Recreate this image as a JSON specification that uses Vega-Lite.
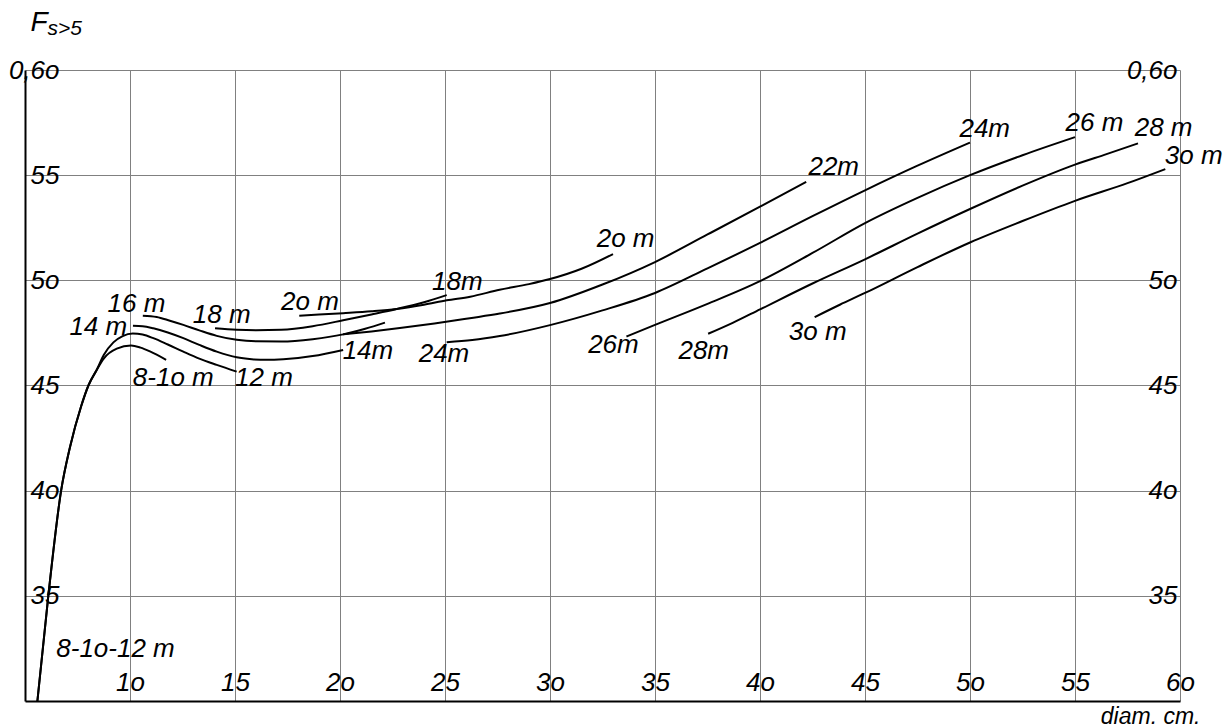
{
  "$schema": "https://vega.github.io/schema/vega-lite/v6.json",
  "width": 1155,
  "height": 631,
  "autosize": {"type": "none"},
  "padding": {"left": 25, "top": 70, "right": 48, "bottom": 26},
  "background": "white",
  "config": {
    "view": {"stroke": null},
    "font": "Liberation Sans",
    "axis": {
      "labelFont": "Liberation Sans",
      "labelFontStyle": "italic",
      "labelFontSize": 26,
      "labelColor": "black",
      "labelOverlap": false,
      "labelFlush": false,
      "titleFont": "Liberation Sans",
      "titleFontStyle": "italic",
      "titleFontWeight": "normal",
      "titleColor": "black"
    }
  },
  "datasets": {
    "curves": [
      {"h": "8-10 m", "d": 5.59, "f": 0.300},
      {"h": "8-10 m", "d": 6.11, "f": 0.350},
      {"h": "8-10 m", "d": 6.72, "f": 0.400},
      {"h": "8-10 m", "d": 7.15, "f": 0.421},
      {"h": "8-10 m", "d": 7.67, "f": 0.440},
      {"h": "8-10 m", "d": 8.02, "f": 0.450},
      {"h": "8-10 m", "d": 8.42, "f": 0.4575},
      {"h": "8-10 m", "d": 8.75, "f": 0.4628},
      {"h": "8-10 m", "d": 9.37, "f": 0.4675},
      {"h": "8-10 m", "d": 10.05, "f": 0.4690},
      {"h": "8-10 m", "d": 10.5, "f": 0.4680},
      {"h": "8-10 m", "d": 10.95, "f": 0.4662},
      {"h": "8-10 m", "d": 11.72, "f": 0.4622},

      {"h": "12 m", "d": 5.59, "f": 0.300},
      {"h": "12 m", "d": 6.11, "f": 0.350},
      {"h": "12 m", "d": 6.72, "f": 0.400},
      {"h": "12 m", "d": 7.15, "f": 0.421},
      {"h": "12 m", "d": 7.67, "f": 0.440},
      {"h": "12 m", "d": 8.02, "f": 0.450},
      {"h": "12 m", "d": 8.42, "f": 0.4575},
      {"h": "12 m", "d": 8.75, "f": 0.4645},
      {"h": "12 m", "d": 9.21, "f": 0.4705},
      {"h": "12 m", "d": 9.65, "f": 0.4735},
      {"h": "12 m", "d": 10.13, "f": 0.4747},
      {"h": "12 m", "d": 10.6, "f": 0.4742},
      {"h": "12 m", "d": 11.11, "f": 0.4725},
      {"h": "12 m", "d": 11.8, "f": 0.4695},
      {"h": "12 m", "d": 12.54, "f": 0.4661},
      {"h": "12 m", "d": 13.3, "f": 0.4628},
      {"h": "12 m", "d": 14.13, "f": 0.4598},
      {"h": "12 m", "d": 15.08, "f": 0.4566},

      {"h": "14 m", "d": 10.14, "f": 0.4784},
      {"h": "14 m", "d": 10.6, "f": 0.4782},
      {"h": "14 m", "d": 11.11, "f": 0.4772},
      {"h": "14 m", "d": 11.8, "f": 0.4752},
      {"h": "14 m", "d": 12.54, "f": 0.4725},
      {"h": "14 m", "d": 13.3, "f": 0.4693},
      {"h": "14 m", "d": 14.13, "f": 0.4661},
      {"h": "14 m", "d": 15.08, "f": 0.4634},
      {"h": "14 m", "d": 15.8, "f": 0.4625},
      {"h": "14 m", "d": 16.5, "f": 0.4622},
      {"h": "14 m", "d": 17.3, "f": 0.4625},
      {"h": "14 m", "d": 18.7, "f": 0.4640},
      {"h": "14 m", "d": 20.15, "f": 0.4669},

      {"h": "16 m", "d": 10.61, "f": 0.4832},
      {"h": "16 m", "d": 11.27, "f": 0.4826},
      {"h": "16 m", "d": 11.9, "f": 0.4808},
      {"h": "16 m", "d": 12.54, "f": 0.4788},
      {"h": "16 m", "d": 13.3, "f": 0.4762},
      {"h": "16 m", "d": 14.13, "f": 0.4736},
      {"h": "16 m", "d": 15.08, "f": 0.4717},
      {"h": "16 m", "d": 16.0, "f": 0.4710},
      {"h": "16 m", "d": 17.2, "f": 0.4709},
      {"h": "16 m", "d": 18.7, "f": 0.4720},
      {"h": "16 m", "d": 20.15, "f": 0.4743},
      {"h": "16 m", "d": 21.2, "f": 0.4770},
      {"h": "16 m", "d": 22.14, "f": 0.4799},

      {"h": "18 m", "d": 14.05, "f": 0.4772},
      {"h": "18 m", "d": 15.08, "f": 0.4765},
      {"h": "18 m", "d": 16.0, "f": 0.4763},
      {"h": "18 m", "d": 17.2, "f": 0.4765},
      {"h": "18 m", "d": 18.7, "f": 0.4782},
      {"h": "18 m", "d": 20.15, "f": 0.4810},
      {"h": "18 m", "d": 21.5, "f": 0.4838},
      {"h": "18 m", "d": 22.7, "f": 0.4864},
      {"h": "18 m", "d": 24.0, "f": 0.4896},
      {"h": "18 m", "d": 25.08, "f": 0.4930},

      {"h": "20 m", "d": 18.06, "f": 0.4832},
      {"h": "20 m", "d": 19.0, "f": 0.4837},
      {"h": "20 m", "d": 20.15, "f": 0.4844},
      {"h": "20 m", "d": 21.5, "f": 0.4853},
      {"h": "20 m", "d": 22.7, "f": 0.4864},
      {"h": "20 m", "d": 24.0, "f": 0.4884},
      {"h": "20 m", "d": 25.08, "f": 0.4905},
      {"h": "20 m", "d": 26.2, "f": 0.4922},
      {"h": "20 m", "d": 27.6, "f": 0.4955},
      {"h": "20 m", "d": 29.0, "f": 0.4982},
      {"h": "20 m", "d": 30.0, "f": 0.5006},
      {"h": "20 m", "d": 31.5, "f": 0.5055},
      {"h": "20 m", "d": 33.0, "f": 0.5125},

      {"h": "22 m", "d": 20.15, "f": 0.4743},
      {"h": "22 m", "d": 21.5, "f": 0.4757},
      {"h": "22 m", "d": 22.85, "f": 0.4773},
      {"h": "22 m", "d": 24.5, "f": 0.4795},
      {"h": "22 m", "d": 26.18, "f": 0.4820},
      {"h": "22 m", "d": 27.61, "f": 0.4842},
      {"h": "22 m", "d": 30.0, "f": 0.4892},
      {"h": "22 m", "d": 32.5, "f": 0.4980},
      {"h": "22 m", "d": 35.0, "f": 0.5087},
      {"h": "22 m", "d": 37.5, "f": 0.5218},
      {"h": "22 m", "d": 40.0, "f": 0.5350},
      {"h": "22 m", "d": 42.2, "f": 0.5468},

      {"h": "24 m", "d": 25.08, "f": 0.4706},
      {"h": "24 m", "d": 26.3, "f": 0.4716},
      {"h": "24 m", "d": 27.61, "f": 0.4735},
      {"h": "24 m", "d": 30.0, "f": 0.4787},
      {"h": "24 m", "d": 32.5, "f": 0.4857},
      {"h": "24 m", "d": 35.0, "f": 0.4940},
      {"h": "24 m", "d": 37.5, "f": 0.5057},
      {"h": "24 m", "d": 40.0, "f": 0.5178},
      {"h": "24 m", "d": 42.5, "f": 0.5305},
      {"h": "24 m", "d": 45.0, "f": 0.5428},
      {"h": "24 m", "d": 47.5, "f": 0.5545},
      {"h": "24 m", "d": 50.0, "f": 0.5655},

      {"h": "26 m", "d": 33.64, "f": 0.4733},
      {"h": "26 m", "d": 35.0, "f": 0.4788},
      {"h": "26 m", "d": 37.5, "f": 0.4888},
      {"h": "26 m", "d": 40.0, "f": 0.4996},
      {"h": "26 m", "d": 42.5, "f": 0.5130},
      {"h": "26 m", "d": 45.0, "f": 0.5272},
      {"h": "26 m", "d": 47.5, "f": 0.5392},
      {"h": "26 m", "d": 50.0, "f": 0.5500},
      {"h": "26 m", "d": 52.5, "f": 0.5595},
      {"h": "26 m", "d": 55.0, "f": 0.5681},

      {"h": "28 m", "d": 37.53, "f": 0.4746},
      {"h": "28 m", "d": 38.7, "f": 0.4798},
      {"h": "28 m", "d": 40.0, "f": 0.4862},
      {"h": "28 m", "d": 42.5, "f": 0.4985},
      {"h": "28 m", "d": 45.0, "f": 0.5100},
      {"h": "28 m", "d": 47.5, "f": 0.5222},
      {"h": "28 m", "d": 50.0, "f": 0.5339},
      {"h": "28 m", "d": 52.5, "f": 0.5450},
      {"h": "28 m", "d": 55.0, "f": 0.5550},
      {"h": "28 m", "d": 56.5, "f": 0.5600},
      {"h": "28 m", "d": 58.0, "f": 0.5651},

      {"h": "30 m", "d": 42.6, "f": 0.4825},
      {"h": "30 m", "d": 43.8, "f": 0.4884},
      {"h": "30 m", "d": 45.0, "f": 0.4940},
      {"h": "30 m", "d": 47.5, "f": 0.5063},
      {"h": "30 m", "d": 50.0, "f": 0.5180},
      {"h": "30 m", "d": 52.5, "f": 0.5282},
      {"h": "30 m", "d": 55.0, "f": 0.5378},
      {"h": "30 m", "d": 57.5, "f": 0.5462},
      {"h": "30 m", "d": 59.3, "f": 0.5529}
    ],
    "labels": [
      {"t": "16 m", "d": 10.31, "f": 0.4888},
      {"t": "14 m", "d": 8.49, "f": 0.4776},
      {"t": "18 m", "d": 14.37, "f": 0.4836},
      {"t": "2o m", "d": 18.57, "f": 0.4899},
      {"t": "8-1o m", "d": 12.06, "f": 0.4538},
      {"t": "12 m", "d": 16.38, "f": 0.4538},
      {"t": "14m", "d": 21.33, "f": 0.4664},
      {"t": "24m", "d": 24.95, "f": 0.4650},
      {"t": "18m", "d": 25.59, "f": 0.4993},
      {"t": "2o m", "d": 33.6, "f": 0.5197},
      {"t": "26m", "d": 33.02, "f": 0.4693},
      {"t": "28m", "d": 37.32, "f": 0.4662},
      {"t": "3o m", "d": 42.75, "f": 0.4752},
      {"t": "22m", "d": 43.51, "f": 0.5538},
      {"t": "24m", "d": 50.7, "f": 0.5721},
      {"t": "26 m", "d": 55.93, "f": 0.5749},
      {"t": "28 m", "d": 59.22, "f": 0.5722},
      {"t": "3o m", "d": 60.65, "f": 0.5590},
      {"t": "8-1o-12 m", "d": 9.31, "f": 0.3246}
    ]
  },
  "layer": [
    {
      "data": {"name": "curves"},
      "mark": {"type": "line", "interpolate": "monotone", "color": "black", "strokeWidth": 2},
      "encoding": {
        "x": {
          "field": "d", "type": "quantitative",
          "scale": {"domain": [5, 60], "nice": false, "zero": false},
          "axis": {
            "orient": "bottom",
            "values": [10, 15, 20, 25, 30, 35, 40, 45, 50, 55, 60],
            "labelExpr": "replace(format(datum.value, 'd'), '0', 'o')",
            "labelAlign": "center",
            "labelBaseline": "alphabetic",
            "labelPadding": -11,
            "ticks": false,
            "domain": true,
            "domainColor": "black",
            "domainWidth": 2,
            "grid": true,
            "gridColor": "#808080",
            "gridWidth": 1,
            "title": "diam. cm.",
            "titleFontSize": 23,
            "titleAlign": "right",
            "titleBaseline": "alphabetic",
            "titleAnchor": null,
            "titleX": 1175,
            "titleY": 22
          }
        },
        "y": {
          "field": "f", "type": "quantitative",
          "scale": {"domain": [0.3, 0.6], "nice": false, "zero": false},
          "axis": {
            "orient": "left",
            "values": [0.35, 0.4, 0.45, 0.5, 0.55, 0.6],
            "labelExpr": "datum.value > 0.59 ? '0,6o' : replace(format(datum.value * 100, '.0f'), '0', 'o')",
            "labelAlign": "right",
            "labelBaseline": "middle",
            "labelPadding": -34,
            "ticks": false,
            "domain": true,
            "domainColor": "black",
            "domainWidth": 2,
            "grid": true,
            "gridColor": "#808080",
            "gridWidth": 1,
            "title": "F",
            "titleFontSize": 28,
            "titleAngle": 0,
            "titleAlign": "left",
            "titleBaseline": "alphabetic",
            "titleAnchor": null,
            "titleX": 5,
            "titleY": -40
          }
        },
        "detail": {"field": "h"}
      }
    },
    {
      "data": {"name": "labels"},
      "mark": {"type": "text", "font": "Liberation Sans", "fontStyle": "italic", "fontSize": 26, "color": "black", "align": "center", "baseline": "middle"},
      "encoding": {
        "x": {"field": "d", "type": "quantitative"},
        "y": {
          "field": "f", "type": "quantitative",
          "axis": {
            "orient": "right",
            "values": [0.35, 0.4, 0.45, 0.5, 0.6],
            "labelExpr": "datum.value > 0.59 ? '0,6o' : replace(format(datum.value * 100, '.0f'), '0', 'o')",
            "labelAlign": "right",
            "labelBaseline": "middle",
            "labelPadding": -3,
            "ticks": false,
            "domain": false,
            "grid": false,
            "title": "s>5",
            "titleFontSize": 21,
            "titleAngle": 0,
            "titleAlign": "left",
            "titleBaseline": "alphabetic",
            "titleAnchor": null,
            "titleX": -1133,
            "titleY": -36
          }
        },
        "text": {"field": "t"}
      }
    }
  ],
  "resolve": {"axis": {"y": "independent"}}
}
